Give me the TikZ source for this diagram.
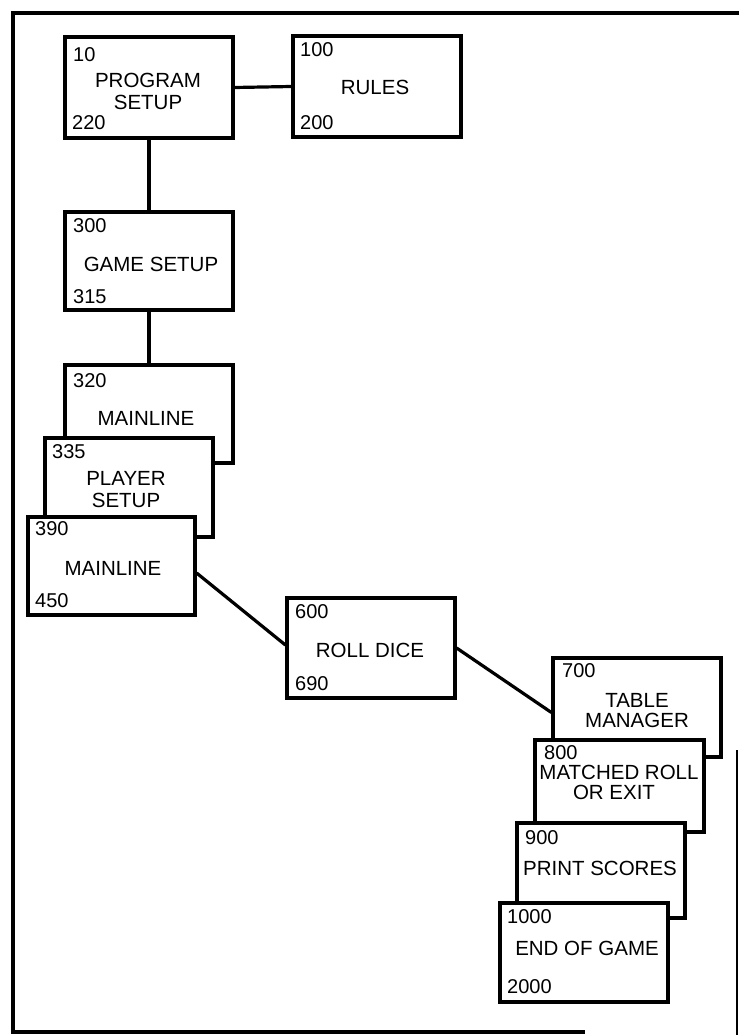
\documentclass[tikz,border=0pt]{standalone}
\usepackage{fontspec}
\setmainfont{Liberation Sans}
\begin{document}
\begin{tikzpicture}[x=1pt,y=-1pt,
  box/.style={draw, line width=3.2pt, fill=white, inner sep=0pt, minimum width=168pt, minimum height=99pt},
  num/.style={inner sep=0pt, anchor=base west, font=\fontsize{20}{23}\selectfont},
  txt/.style={inner sep=0pt, anchor=base, font=\fontsize{20.5}{24}\selectfont},
  conn/.style={line width=3.2pt},
  frameline/.style={line width=4pt},
  thinframe/.style={line width=2pt}]
\useasboundingbox (0,0) rectangle (739,1035);

% frame
\coordinate (fTR) at (739,13);
\coordinate (fTL) at (13,13);
\coordinate (fBL) at (13,1032);
\coordinate (fBR) at (585,1032);
\coordinate (fR1) at (737,750);
\coordinate (fR2) at (737,1035);
\draw[frameline] (fTR) -- (fTL) -- (fBL) -- (fBR);
\draw[thinframe] (fR1) -- (fR2);

% boxes
\node[box, minimum height=101pt] (PS) at (149,87.5) {};
\node[num] (PSa) at (73,62) {10};
\node[txt] (PSt1) at (148,88) {PROGRAM};
\node[txt] (PSt2) at (148,110) {SETUP};
\node[num] (PSb) at (72,130) {220};

\node[box, minimum height=101pt] (RU) at (377,86.5) {};
\node[num] (RUa) at (300,57) {100};
\node[txt] (RUt) at (375,95) {RULES};
\node[num] (RUb) at (300,130) {200};

\node[box, minimum height=98pt] (GS) at (149,261) {};
\node[num] (GSa) at (73,232) {300};
\node[txt] (GSt) at (151,271) {GAME SETUP};
\node[num] (GSb) at (73,303) {315};

\node[box, minimum height=98pt] (ML1) at (149,414) {};
\node[num] (ML1a) at (73,387) {320};
\node[txt] (ML1t) at (146,425) {MAINLINE};

\node[box, minimum height=99pt] (PL) at (129,487.5) {};
\node[num] (PLa) at (52,458) {335};
\node[txt] (PLt1) at (126,485) {PLAYER};
\node[txt] (PLt2) at (126,507) {SETUP};

\node[box, minimum width=167pt, minimum height=98pt] (ML2) at (111.5,566) {};
\node[num] (ML2a) at (35,535) {390};
\node[txt] (ML2t) at (113,575) {MAINLINE};
\node[num] (ML2b) at (35,607) {450};

\node[box, minimum height=100pt] (RD) at (371,648) {};
\node[num] (RDa) at (295,618) {600};
\node[txt] (RDt) at (370,657) {ROLL DICE};
\node[num] (RDb) at (295,690) {690};

\node[box, minimum height=99pt] (TM) at (637,707.5) {};
\node[num] (TMa) at (562,677) {700};
\node[txt] (TMt1) at (637,707) {TABLE};
\node[txt] (TMt2) at (637,727) {MANAGER};

\node[box, minimum width=169pt, minimum height=92pt] (MR) at (619.5,786) {};
\node[num] (MRa) at (544,759.5) {800};
\node[txt] (MRt1) at (619,779.5) {MATCHED ROLL};
\node[txt] (MRt2) at (614,799) {OR EXIT};

\node[box, minimum height=95pt] (PR) at (601,870.5) {};
\node[num] (PRa) at (525,844) {900};
\node[txt] (PRt) at (600,875) {PRINT SCORES};

\node[box, minimum height=99pt] (EG) at (584,952.5) {};
\node[num] (EGa) at (507,923) {1000};
\node[txt] (EGt) at (587,955) {END OF GAME};
\node[num] (EGb) at (507,993) {2000};

% connectors
\draw[conn] (PS.east) -- (RU.west);
\draw[conn] (PS.south) -- (GS.north);
\draw[conn] (GS.south) -- (ML1.north);
\draw[conn] ([yshift=-7pt]ML2.east) -- ([yshift=3pt]RD.west);
\draw[conn] (RD.east) -- ([yshift=-5pt]TM.west);
\end{tikzpicture}
\end{document}
